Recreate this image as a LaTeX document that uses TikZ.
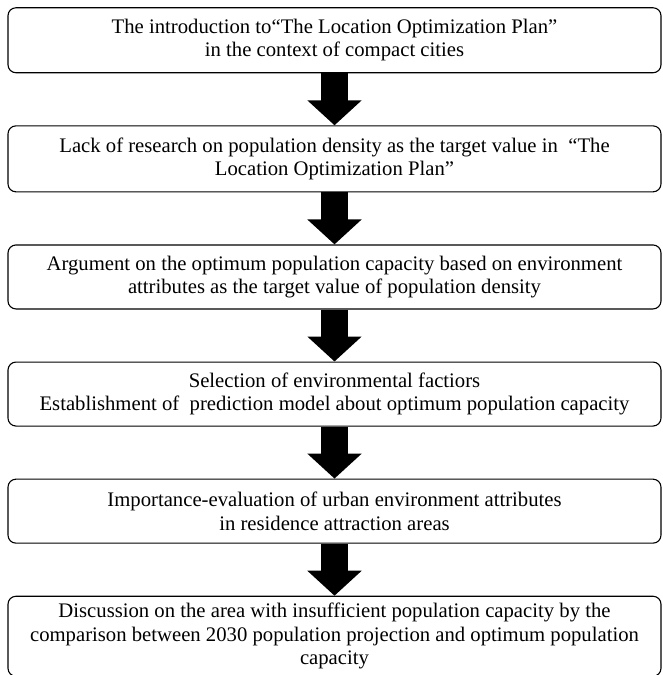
\documentclass[tikz,border=0pt]{standalone}
\usepackage{fontspec}
\setmainfont{Liberation Serif}
\usepackage{tikz}
\usetikzlibrary{arrows.meta}

\tikzset{
  stage/.style={draw, line width=1.1pt, rounded corners=8pt, align=center,
    minimum width=653pt, inner sep=0pt,
    font=\fontsize{20.7}{23.5}\selectfont},
  fatarrow/.style={line width=27pt, -{Triangle[length=25pt,width=53pt]}}
}

\begin{document}
\begin{tikzpicture}[x=1pt,y=1pt]
        \useasboundingbox (0,0) rectangle (663,-675);
        \matrix [
          row sep=52pt,
          anchor=north, inner sep=0pt
          %nodes={minimum height=65pt}
        ] (m) at (334.5,-7) {
         \node[stage, minimum height=65pt] (intro) {The introduction to“The Location Optimization Plan”\\ in the context of compact cities}; \\
         \node[stage, minimum height=66pt] (lack) {Lack of research on population density as the target value in \ “The\\ Location Optimization Plan”}; \\
         \node[stage, minimum height=64pt] (argue) {Argument on the optimum population capacity based on environment\\ attributes as the target value of population density}; \\
         \node[stage, minimum height=64pt] (model) {Selection of environmental factiors\\ Establishment of \ prediction model about optimum population capacity}; \\
         \node[stage, minimum height=64pt] (eval) {Importance-evaluation of urban environment attributes\\ in residence attraction areas}; \\
         \node[stage, minimum height=80pt] (disc) {Discussion on the area with insufficient population capacity by the\\ comparison between 2030 population projection and optimum population\\ capacity}; \\
        } ;

        \draw[fatarrow] (intro.south) -- (lack.north);
        \draw[fatarrow] (lack.south) -- (argue.north);
        \draw[fatarrow] (argue.south) -- (model.north);
        \draw[fatarrow] (model.south) -- (eval.north);
        \draw[fatarrow] (eval.south) -- (disc.north);
    \end{tikzpicture}
\end{document}
